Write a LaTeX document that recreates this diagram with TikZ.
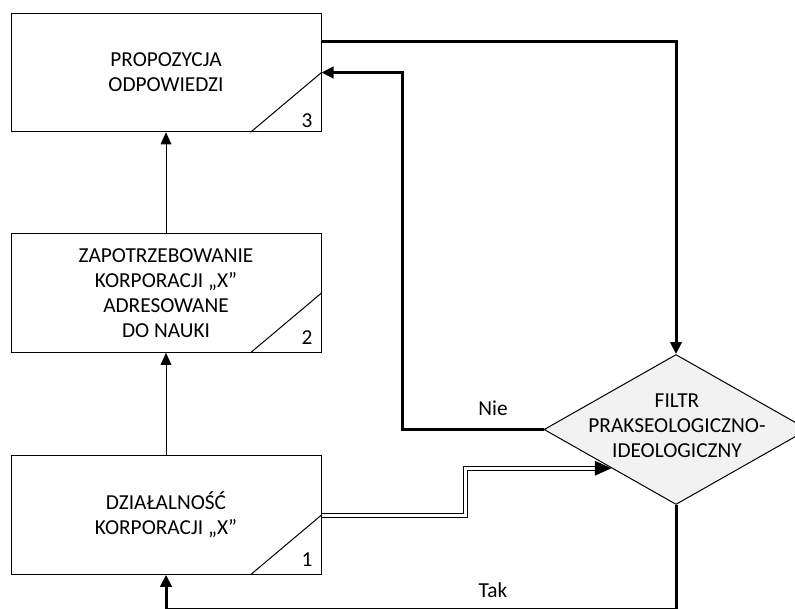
\documentclass[tikz,border=0pt]{standalone}
\usepackage{fontspec}
\setmainfont{Carlito}
\usetikzlibrary{calc,arrows.meta,shapes.geometric}

\begin{document}
\begin{tikzpicture}[x=0.75pt,y=-0.75pt,
  box/.style={draw,line width=0.75pt,minimum width=232.5pt,minimum height=88.9pt,inner sep=0pt,align=center},
  lbl/.style={font=\fontsize{16}{18.75}\selectfont,align=center,inner sep=0pt},
  thinarrow/.style={line width=0.75pt,-{Triangle[length=9pt,width=8pt]}},
  thickarrow/.style={line width=2.25pt,-{Triangle[length=9pt,width=8.5pt]}},
  dbl/.style={line width=0.75pt,double,double distance=2.25pt}]
  \useasboundingbox (0,0) rectangle (795,608);
  \clip (0,0) rectangle (795,608);
  \node[box,lbl] (prop) at (166,72.5) {PROPOZYCJA\\ODPOWIEDZI};
  \node[box,lbl] (need) at (166,293) {ZAPOTRZEBOWANIE\\KORPORACJI „X”\\ADRESOWANE\\DO NAUKI};
  \node[box,lbl] (act) at (166,515) {DZIAŁALNOŚĆ\\KORPORACJI „X”};
  \draw[line width=0.75pt] ($(prop.south east)+(-71,0)$) -- (prop.east);
  \draw[line width=0.75pt] ($(need.south east)+(-71,0)$) -- (need.east);
  \draw[line width=0.75pt] ($(act.south east)+(-71,0)$) -- (act.east);
  \node[lbl] (n3) at (307,121) {3};
  \node[lbl] (n2) at (307,338) {2};
  \node[lbl] (n1) at (307,560) {1};
  \node[draw,diamond,fill=gray!10,line width=0.75pt,minimum width=198pt,minimum height=112.5pt,inner sep=0pt] (filter) at (676,429.5) {};
  \node[lbl] (filtertxt) at (677,426) {FILTR\\PRAKSEOLOGICZNO-\\IDEOLOGICZNY};
  \draw[thinarrow] (act.north) -- (need.south);
  \draw[thinarrow] (need.north) -- (prop.south);
  \coordinate (c1) at (676,41);
  \draw[thickarrow] (prop.east |- c1) -- (c1) -- (filter.north);
  \coordinate (c2) at (402,429.5);
  \draw[thickarrow] (filter.west) -- (c2) |- (prop.east);
  \node[lbl] (nie) at (493,408) {Nie};
  \coordinate (d1) at (465,515);
  \coordinate (tip) at ($(filter.west)!0.513!(filter.south)$);
  \draw[dbl,shorten >=10pt] (act.east) -- (d1) |- (tip);
  \draw[line width=0.75pt,-{Triangle[length=12.5pt,width=11pt]}] ($(tip)+(-14,0)$) -- (tip);
  \coordinate (t1) at (676,609.6);
  \coordinate (t2) at (166,609.6);
  \draw[thickarrow] (filter.south) -- (t1) -- (t2) -- (act.south);
  \node[lbl] (tak) at (493,590) {Tak};
\end{tikzpicture}
\end{document}
